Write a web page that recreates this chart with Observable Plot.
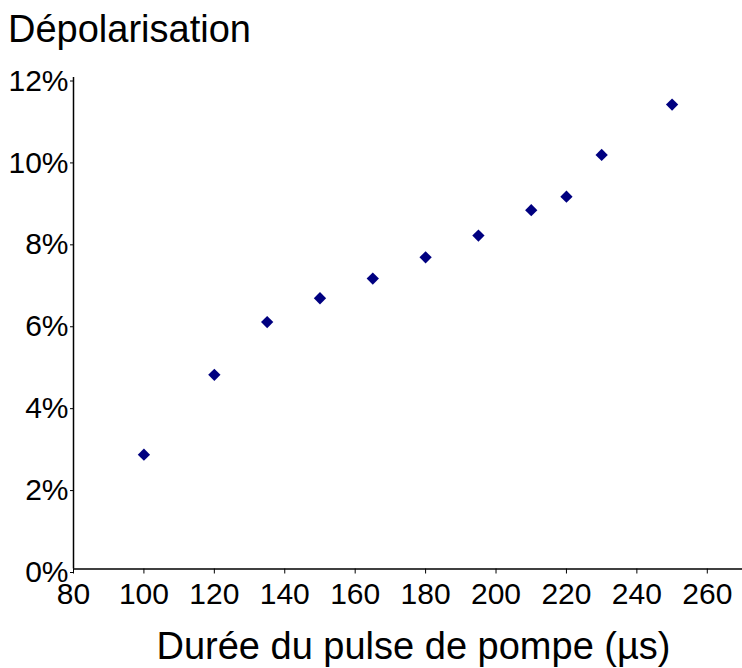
<!DOCTYPE html>
<html>
<head>
<meta charset="utf-8">
<script src="https://cdn.jsdelivr.net/npm/d3@7"></script>
<script src="https://cdn.jsdelivr.net/npm/@observablehq/plot@0.6"></script>
<style>
  html, body { margin: 0; padding: 0; background: #fff; }
  #wrap { position: relative; width: 742px; height: 668px; font-family: "Liberation Sans", Arial, sans-serif; }
  #title { position: absolute; left: 8px; top: 10px; font-size: 38px; line-height: 38px; color: #000; white-space: nowrap; }
  #xlabel { position: absolute; left: 0; width: 827px; text-align: center; top: 627px; font-size: 38px; line-height: 38px; color: #000; white-space: nowrap; }
  #chart { position: absolute; left: 0; top: 0; }
</style>
</head>
<body>
<div id="wrap">
  <div id="chart"></div>
  <div id="title">Dépolarisation</div>
  <div id="xlabel">Durée du pulse de pompe (µs)</div>
</div>
<script>
const durations = [100, 120, 135, 150, 165, 180, 195, 210, 220, 230, 250];
const depolarisation = [0.0279, 0.0474, 0.0603, 0.0661, 0.0709, 0.0761, 0.0814, 0.0876, 0.0909, 0.1011, 0.1134];
const xTicks = [80, 100, 120, 140, 160, 180, 200, 220, 240, 260];
const yTicks = [0, 0.02, 0.04, 0.06, 0.08, 0.10, 0.12];

const data = durations.map((d, i) => ({x: d, y: depolarisation[i]}));

const chart = Plot.plot({
  width: 742,
  height: 668,
  marginLeft: 73,
  marginRight: 0,
  marginTop: 77,
  marginBottom: 99.5,
  style: {fontFamily: '"Liberation Sans", Arial, sans-serif', fontSize: "30px", color: "#000", background: "transparent"},
  x: {domain: [80, 270], ticks: xTicks, label: null},
  y: {domain: [0, 0.12], ticks: yTicks, label: null},
  marks: [
    Plot.axisX({ticks: xTicks, tickSize: 5, tickPadding: 9, tickFormat: d => String(d), label: null, fontSize: 30, stroke: "#000"}),
    Plot.axisY({ticks: yTicks, tickSize: 3, tickPadding: 2, tickFormat: d => Math.round(d * 100) + "%", label: null, fontSize: 30, dy: 3.5, stroke: "#000"}),
    Plot.ruleX([80], {stroke: "#000", strokeWidth: 1.5}),
    Plot.ruleY([0], {stroke: "#000", strokeWidth: 1.5}),
    Plot.dot(data, {x: "x", y: "y", symbol: "square", rotate: 45, r: 4.9, fill: "#000080", stroke: "none"})
  ]
});
document.getElementById("chart").appendChild(chart);
</script>
</body>
</html>
